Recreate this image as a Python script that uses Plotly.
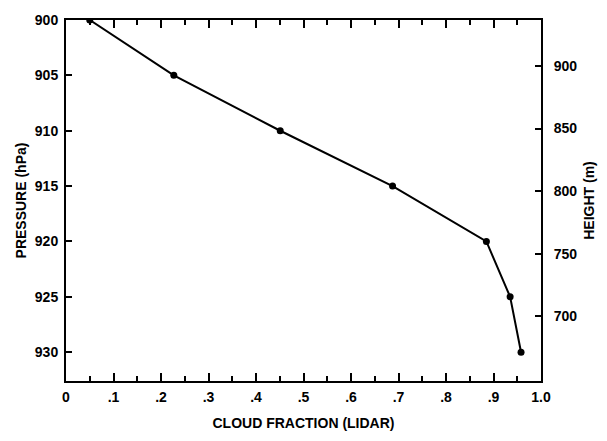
import plotly.graph_objects as go

# Data
cloud_fraction = [0.05, 0.227, 0.451, 0.6875, 0.885, 0.935, 0.958]
pressure_hpa = [900, 905, 910, 915, 920, 925, 930]

x_tickvals = [0, 0.1, 0.2, 0.3, 0.4, 0.5, 0.6, 0.7, 0.8, 0.9, 1.0]
x_ticktext = ["0", ".1", ".2", ".3", ".4", ".5", ".6", ".7", ".8", ".9", "1.0"]
pressure_ticks = [900, 905, 910, 915, 920, 925, 930]
height_ticks = [700, 750, 800, 850, 900]

FONT = "Liberation Sans"
tickfont = dict(family=FONT, size=14, color="black", weight=700)
titlefont = dict(family=FONT, size=14, color="black", weight=700)

fig = go.Figure()
fig.add_trace(go.Scatter(
    x=cloud_fraction, y=pressure_hpa, mode="lines+markers",
    line=dict(color="black", width=2),
    marker=dict(color="black", size=7),
    showlegend=False, hoverinfo="x+y",
))
# invisible trace to activate the right-hand height axis
fig.add_trace(go.Scatter(x=[None], y=[None], yaxis="y2", showlegend=False, hoverinfo="skip"))

fig.update_layout(
    width=607, height=441,
    margin=dict(l=66, r=61, t=15, b=48),
    paper_bgcolor="white", plot_bgcolor="white",
    xaxis=dict(
        range=[0, 1.0], tickvals=x_tickvals, ticktext=x_ticktext,
        ticks="inside", ticklen=8, tickwidth=1.5, tickcolor="black",
        minor=dict(dtick=0.05, ticks="inside", ticklen=5, tickwidth=1.5, tickcolor="black"),
        showline=True, linecolor="black", linewidth=2, mirror="ticks",
        showgrid=False, zeroline=False,
        tickfont=tickfont, ticklabelstandoff=2,
        title=dict(text="CLOUD FRACTION (LIDAR)", font=titlefont, standoff=14),
    ),
    yaxis=dict(
        range=[932.6, 900], tickvals=pressure_ticks,
        ticks="inside", ticklen=6, tickwidth=1.5, tickcolor="black",
        showline=True, linecolor="black", linewidth=2,
        showgrid=False, zeroline=False,
        tickfont=tickfont, ticklabelstandoff=3,
        title=dict(text="PRESSURE (hPa)", font=titlefont, standoff=5),
    ),
    yaxis2=dict(
        overlaying="y", side="right", range=[648.3, 936.7], tickvals=height_ticks,
        ticks="inside", ticklen=6, tickwidth=1.5, tickcolor="black",
        showline=True, linecolor="black", linewidth=2,
        showgrid=False, zeroline=False,
        tickfont=tickfont, ticklabelstandoff=8,
        title=dict(text="HEIGHT (m)", font=titlefont, standoff=8),
    ),
)

fig.write_html("out.html")
